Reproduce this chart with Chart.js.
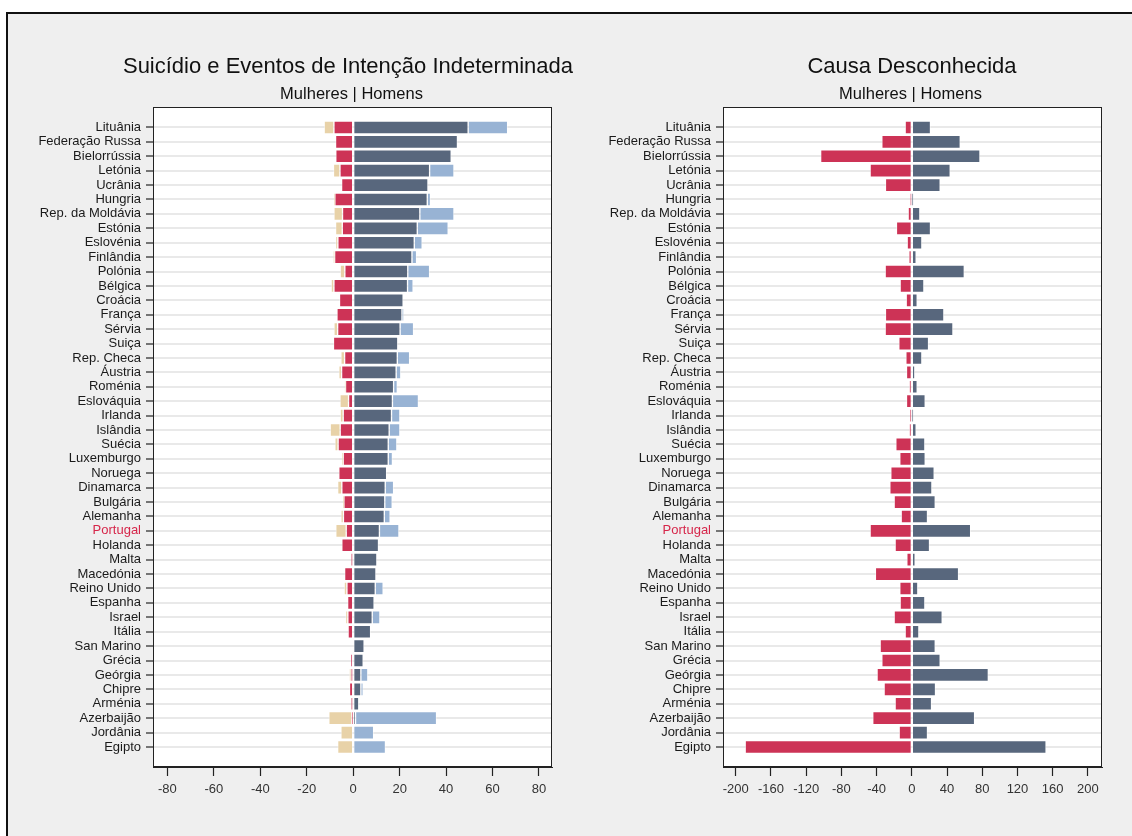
<!DOCTYPE html>
<html lang="pt">
<head>
<meta charset="UTF-8">
<title>Suicídio e Causa Desconhecida</title>
<script src="https://cdn.jsdelivr.net/npm/chart.js"></script>
<style>
  body { margin: 0; background: #fff; width: 1132px; height: 836px; overflow: hidden; position: relative; }
  #frame { position: absolute; left: 6px; top: 12px; width: 1200px; height: 900px; background: #efefef;
           border-left: 2px solid #111; border-top: 2px solid #111; }
  canvas { position: absolute; top: 0; }
</style>
</head>
<body>
<div id="frame"></div>
<canvas id="suicideChart" width="620" height="836" style="left:0"></canvas>
<canvas id="unknownChart" width="566" height="836" style="left:566px"></canvas>

<script>
// Countries, top to bottom
const countries = ['Lituânia', 'Federação Russa', 'Bielorrússia', 'Letónia', 'Ucrânia', 'Hungria',
  'Rep. da Moldávia', 'Estónia', 'Eslovénia', 'Finlândia', 'Polónia', 'Bélgica', 'Croácia', 'França',
  'Sérvia', 'Suiça', 'Rep. Checa', 'Áustria', 'Roménia', 'Eslováquia', 'Irlanda', 'Islândia', 'Suécia',
  'Luxemburgo', 'Noruega', 'Dinamarca', 'Bulgária', 'Alemanha', 'Portugal', 'Holanda', 'Malta',
  'Macedónia', 'Reino Unido', 'Espanha', 'Israel', 'Itália', 'San Marino', 'Grécia', 'Geórgia',
  'Chipre', 'Arménia', 'Azerbaijão', 'Jordânia', 'Egipto'];

// Suicide and events of undetermined intent (rate per 100 000)
const menSuicide = [49.5, 44.9, 42.2, 32.9, 32.2, 31.9, 28.7, 27.6, 26.3, 25.3,
  23.5, 23.4, 21.5, 21.0, 20.2, 19.2, 19.0, 18.5, 17.4, 16.9,
  16.5, 15.5, 15.1, 15.1, 14.4, 13.8, 13.6, 13.4, 11.3, 10.9,
  10.2, 9.8, 9.5, 9.0, 8.2, 7.5, 4.7, 4.3, 3.3, 3.3,
  2.4, 1.0, 0, 0];
const menUndetermined = [17.0, 0, 0, 10.5, 0, 1.4, 14.7, 13.3, 3.4, 2.0,
  9.4, 2.4, 0, 0.8, 5.8, 0, 5.3, 2.0, 1.6, 11.2,
  3.6, 4.6, 3.7, 1.8, 0, 3.6, 3.2, 2.5, 8.4, 0,
  0, 0, 3.4, 0, 3.3, 0, 0, 0, 3.0, 1.0,
  0, 34.9, 8.8, 13.9];
const womenSuicide = [8.3, 7.6, 7.5, 5.7, 5.0, 7.9, 4.6, 4.7, 6.6, 8.0,
  3.6, 8.3, 5.9, 7.0, 6.7, 8.5, 3.7, 5.0, 3.3, 2.0,
  4.3, 5.6, 6.5, 4.3, 6.2, 4.9, 4.0, 4.2, 3.0, 4.9,
  0.9, 3.7, 2.7, 2.4, 2.3, 2.2, 0, 1.1, 0.9, 1.6,
  0.9, 0.6, 0, 0];
const womenUndetermined = [4.2, 0, 0, 2.8, 0, 0.4, 3.7, 2.9, 1.0, 0.5,
  2.0, 1.2, 0, 0, 1.6, 0, 1.6, 1.2, 0.3, 3.7,
  1.3, 4.3, 1.4, 0.4, 0, 1.8, 0.3, 1.1, 4.5, 0,
  0, 0, 1.2, 0, 1.0, 0, 0, 0, 0.8, 0,
  0, 9.9, 5.3, 6.7];

// Unknown cause
const menUnknown = [21.2, 55.0, 77.4, 43.6, 32.2, 1.5, 9.1, 21.2, 11.4, 4.9,
  59.6, 13.7, 6.1, 36.4, 46.7, 19.0, 11.4, 3.4, 6.1, 15.2,
  1.5, 4.9, 14.8, 15.2, 25.4, 22.8, 26.6, 17.8, 66.8, 20.1,
  3.8, 53.1, 6.8, 14.8, 34.5, 8.0, 26.6, 32.2, 86.9, 26.9,
  22.4, 71.3, 17.8, 152.5];
const womenUnknown = [7.6, 34.1, 103.6, 47.4, 30.0, 1.5, 4.2, 17.5, 5.3, 3.4,
  30.3, 13.3, 6.4, 30.0, 30.3, 14.8, 6.8, 6.1, 3.0, 6.1,
  1.9, 3.0, 18.2, 13.7, 23.9, 25.0, 20.1, 12.1, 47.4, 19.0,
  5.7, 41.4, 13.7, 13.3, 20.1, 7.6, 36.0, 34.1, 39.5, 31.5,
  19.0, 44.4, 14.4, 189.3];

const DARK = '#58677d';
const LIGHT = '#98b3d4';
const RED = '#cd3356';
const BEIGE = '#e8d2a8';
const FONT = '"Liberation Sans", Arial, sans-serif';

Chart.defaults.font.family = FONT;

// white plot region with a full box around it
const plotFrame = {
  id: 'plotFrame',
  beforeDraw(chart) {
    const a = chart.chartArea, ctx = chart.ctx;
    ctx.save();
    ctx.fillStyle = '#fff';
    ctx.fillRect(a.left, a.top, a.right - a.left, a.bottom - a.top);
    ctx.restore();
  },
  afterDraw(chart) {
    const a = chart.chartArea, ctx = chart.ctx;
    ctx.save();
    ctx.strokeStyle = '#222';
    ctx.lineWidth = 1;
    ctx.strokeRect(Math.round(a.left) + 0.5, Math.round(a.top) + 0.5,
      Math.round(a.right - a.left) - 1, Math.round(a.bottom - a.top) - 1);
    ctx.restore();
  }
};

// panel heading: title plus "Mulheres | Homens"; the long title may run wider than the plot
const panelTitles = {
  id: 'panelTitles',
  afterDraw(chart, args, opts) {
    const ctx = chart.ctx;
    ctx.save();
    ctx.fillStyle = '#111';
    ctx.textAlign = 'center';
    ctx.textBaseline = 'middle';
    ctx.font = opts.titleSize + 'px ' + FONT;
    ctx.fillText(opts.title, opts.titleX, 67);
    ctx.font = '16.5px ' + FONT;
    ctx.fillText(opts.subtitle, opts.subtitleX, 94);
    ctx.restore();
  }
};

// women to the left (negative), men to the right
function bars(label, values, color, sign) {
  return {
    label: label,
    data: values.map((v, i) => ({ x: sign * v, y: i })),
    backgroundColor: color,
    borderColor: 'rgba(255,255,255,0.45)',
    borderWidth: 1,
    borderSkipped: false,
    barThickness: 13,
    stack: 'pais'
  };
}

function makePanel(id, heading, datasets, xMin, xMax, step, axisWidth, padRight) {
  new Chart(document.getElementById(id), {
    type: 'bar',
    data: { datasets: datasets },
    plugins: [plotFrame, panelTitles],
    options: {
      indexAxis: 'y',
      responsive: false,
      animation: false,
      layout: { padding: { left: 0, right: padRight, top: 107, bottom: 0 } },
      plugins: {
        legend: { display: false },
        tooltip: { enabled: false },
        panelTitles: heading
      },
      scales: {
        x: {
          type: 'linear', min: xMin, max: xMax, stacked: true,
          afterFit: s => { s.height = 69; },
          ticks: { stepSize: step, includeBounds: false, font: { size: 13 }, color: '#333', padding: 6, maxRotation: 0 },
          grid: { drawOnChartArea: false, tickLength: 9, tickColor: '#222', tickWidth: 1.2 },
          border: { color: '#222', width: 1 }
        },
        y: {
          type: 'linear', reverse: true, min: -1.42, max: 44.39, stacked: true,
          offset: false,
          afterBuildTicks: s => { s.ticks = countries.map((c, i) => ({ value: i })); },
          afterFit: s => { s.width = axisWidth; },
          ticks: {
            autoSkip: false, padding: 5, font: { size: 13 },
            color: ctx => countries[ctx.tick.value] === 'Portugal' ? '#d6264a' : '#1a1a1a',
            callback: v => countries[v]
          },
          grid: { offset: false, color: '#e9e9e9', lineWidth: 2, tickColor: '#222', tickLength: 7, tickWidth: 1.2 },
          border: { color: '#222', width: 1 }
        }
      }
    }
  });
}

makePanel('suicideChart', {
  title: 'Suicídio e Eventos de Intenção Indeterminada', titleSize: 22, titleX: 348,
  subtitle: 'Mulheres | Homens', subtitleX: 351.5
}, [
  bars('Homens - suicídio', menSuicide, DARK, 1),
  bars('Homens - intenção indeterminada', menUndetermined, LIGHT, 1),
  bars('Mulheres - suicídio', womenSuicide, RED, -1),
  bars('Mulheres - intenção indeterminada', womenUndetermined, BEIGE, -1)
], -86.2, 85.6, 20, 153, 68);

makePanel('unknownChart', {
  title: 'Causa Desconhecida', titleSize: 22, titleX: 346,
  subtitle: 'Mulheres | Homens', subtitleX: 344.5
}, [
  bars('Homens', menUnknown, DARK, 1),
  bars('Mulheres', womenUnknown, RED, -1)
], -214.5, 216, 40, 157, 30);
</script>
</body>
</html>
